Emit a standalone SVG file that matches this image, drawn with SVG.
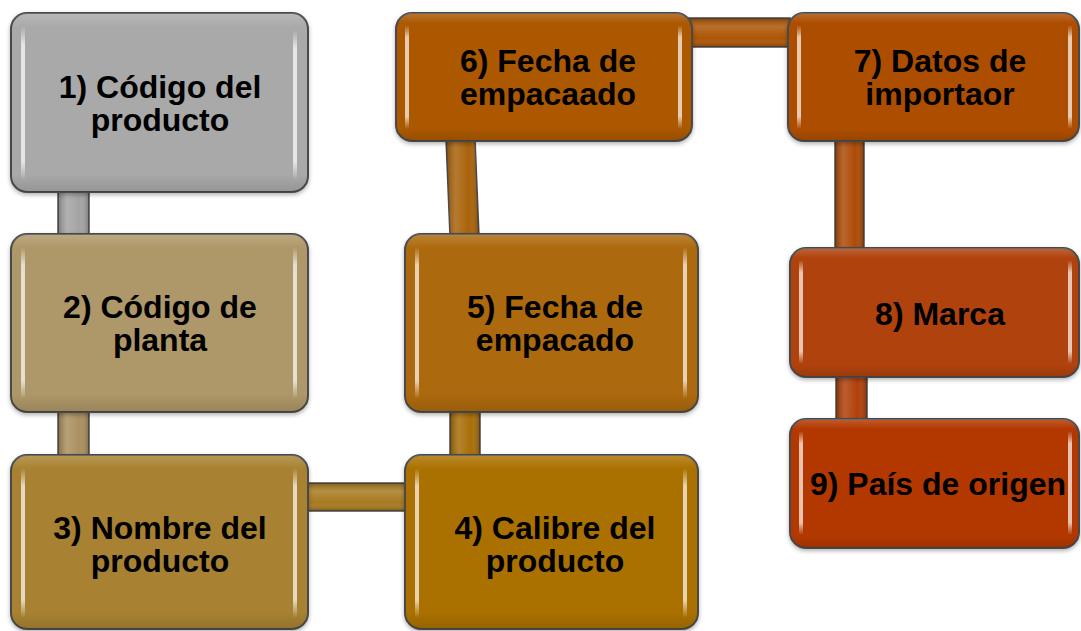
<svg xmlns="http://www.w3.org/2000/svg" width="1081" height="631" viewBox="0 0 1081 631">
  <defs>
    <!-- soft top sheen and darker bottom for the bevelled boxes -->
    <linearGradient id="sheen" x1="0" y1="0" x2="0" y2="1">
      <stop offset="0" stop-color="#ffffff" stop-opacity="0.18"/>
      <stop offset="0.08" stop-color="#ffffff" stop-opacity="0"/>
      <stop offset="0.9" stop-color="#000000" stop-opacity="0"/>
      <stop offset="1" stop-color="#000000" stop-opacity="0.12"/>
    </linearGradient>
    <!-- highlight strips fade out at both ends -->
    <linearGradient id="strip" x1="0" y1="0" x2="0" y2="1">
      <stop offset="0" stop-color="#ffffff" stop-opacity="0"/>
      <stop offset="0.12" stop-color="#ffffff" stop-opacity="0.7"/>
      <stop offset="0.88" stop-color="#ffffff" stop-opacity="0.7"/>
      <stop offset="1" stop-color="#ffffff" stop-opacity="0"/>
    </linearGradient>
    <!-- tube shading for the connector bars -->
    <linearGradient id="tubeV" x1="0" y1="0" x2="1" y2="0">
      <stop offset="0" stop-color="#000000" stop-opacity="0.25"/>
      <stop offset="0.3" stop-color="#ffffff" stop-opacity="0.15"/>
      <stop offset="0.7" stop-color="#ffffff" stop-opacity="0"/>
      <stop offset="1" stop-color="#000000" stop-opacity="0.25"/>
    </linearGradient>
    <linearGradient id="tubeH" x1="0" y1="0" x2="0" y2="1">
      <stop offset="0" stop-color="#000000" stop-opacity="0.25"/>
      <stop offset="0.3" stop-color="#ffffff" stop-opacity="0.15"/>
      <stop offset="0.7" stop-color="#ffffff" stop-opacity="0"/>
      <stop offset="1" stop-color="#000000" stop-opacity="0.25"/>
    </linearGradient>
    <filter id="shadow" x="-5%" y="-5%" width="110%" height="115%">
      <feDropShadow dx="0" dy="2" stdDeviation="2" flood-color="#000" flood-opacity="0.3"/>
    </filter>
  </defs>
  <style>
    .box { stroke: #4a4a4a; stroke-width: 2; filter: url(#shadow); }
    .shade { fill: url(#sheen); stroke: none; }
    .hl { fill: url(#strip); }
    .bar { stroke: #4a4a4a; stroke-width: 1.5; }
    .tv { fill: url(#tubeV); stroke: none; }
    .th { fill: url(#tubeH); stroke: none; }
    .label { font-family: "Liberation Sans", Arial, sans-serif; font-weight: bold; font-size: 32px; fill: #000; text-anchor: middle; }
  </style>

  <rect width="1081" height="631" fill="#ffffff"/>

  <!-- connector bars -->
  <g id="connectors">
    <rect class="bar" x="58" y="190" width="31" height="46" fill="#a3a3a3"/>
    <rect class="tv" x="58" y="190" width="31" height="46"/>
    <rect class="bar" x="58" y="410" width="31" height="48" fill="#ab9060"/>
    <rect class="tv" x="58" y="410" width="31" height="48"/>
    <rect class="bar" x="306" y="483" width="102" height="28" fill="#a87a20"/>
    <rect class="th" x="306" y="483" width="102" height="28"/>
    <rect class="bar" x="450" y="410" width="30" height="48" fill="#a86e08"/>
    <rect class="tv" x="450" y="410" width="30" height="48"/>
    <polygon class="bar" points="446,139 475,139 479,236 450,236" fill="#a9620a"/>
    <polygon class="tv" points="446,139 475,139 479,236 450,236"/>
    <rect class="bar" x="688" y="18" width="102" height="29" fill="#ad5504"/>
    <rect class="th" x="688" y="18" width="102" height="29"/>
    <rect class="bar" x="835" y="139" width="29" height="112" fill="#ad4b06"/>
    <rect class="tv" x="835" y="139" width="29" height="112"/>
    <rect class="bar" x="836" y="375" width="31" height="46" fill="#b0400a"/>
    <rect class="tv" x="836" y="375" width="31" height="46"/>
  </g>

  <g id="node1">
    <rect class="box" x="11" y="13" width="297" height="179" rx="16" fill="#a9a9a9"/>
    <rect class="shade" x="11" y="13" width="297" height="179" rx="16"/>
    <rect class="hl" x="21" y="26" width="4" height="154" rx="2"/>
    <rect class="hl" x="293" y="30" width="4" height="150" rx="2"/>
    <text class="label" x="160" y="98">1) Código del</text>
    <text class="label" x="160" y="131">producto</text>
  </g>

  <g id="node2">
    <rect class="box" x="11" y="234" width="297" height="178" rx="16" fill="#ae9767"/>
    <rect class="shade" x="11" y="234" width="297" height="178" rx="16"/>
    <rect class="hl" x="21" y="247" width="4" height="152" rx="2"/>
    <rect class="hl" x="293" y="247" width="4" height="152" rx="2"/>
    <text class="label" x="160" y="318">2) Código de</text>
    <text class="label" x="160" y="351">planta</text>
  </g>

  <g id="node3">
    <rect class="box" x="11" y="455" width="297" height="174" rx="16" fill="#a88231"/>
    <rect class="shade" x="11" y="455" width="297" height="174" rx="16"/>
    <rect class="hl" x="21" y="468" width="4" height="150" rx="2"/>
    <rect class="hl" x="293" y="468" width="4" height="150" rx="2"/>
    <text class="label" x="160" y="539">3) Nombre del</text>
    <text class="label" x="160" y="572">producto</text>
  </g>

  <g id="node4">
    <rect class="box" x="405" y="455" width="293" height="174" rx="16" fill="#ab7100"/>
    <rect class="shade" x="405" y="455" width="293" height="174" rx="16"/>
    <rect class="hl" x="415" y="468" width="4" height="150" rx="2"/>
    <rect class="hl" x="683" y="468" width="4" height="150" rx="2"/>
    <text class="label" x="555" y="539">4) Calibre del</text>
    <text class="label" x="555" y="572">producto</text>
  </g>

  <g id="node5">
    <rect class="box" x="405" y="234" width="293" height="178" rx="16" fill="#ac690a"/>
    <rect class="shade" x="405" y="234" width="293" height="178" rx="16"/>
    <rect class="hl" x="415" y="247" width="4" height="152" rx="2"/>
    <rect class="hl" x="683" y="247" width="4" height="152" rx="2"/>
    <text class="label" x="555" y="318">5) Fecha de</text>
    <text class="label" x="555" y="351">empacado</text>
  </g>

  <g id="node6">
    <rect class="box" x="396" y="13" width="296" height="128" rx="16" fill="#ab5900"/>
    <rect class="shade" x="396" y="13" width="296" height="128" rx="16"/>
    <rect class="hl" x="405" y="25" width="4" height="104" rx="2"/>
    <rect class="hl" x="678" y="25" width="4" height="104" rx="2"/>
    <text class="label" x="548" y="72">6) Fecha de</text>
    <text class="label" x="548" y="105">empacaado</text>
  </g>

  <g id="node7">
    <rect class="box" x="788" y="13" width="291" height="128" rx="16" fill="#ad4e00"/>
    <rect class="shade" x="788" y="13" width="291" height="128" rx="16"/>
    <rect class="hl" x="797" y="25" width="4" height="104" rx="2"/>
    <rect class="hl" x="1068" y="25" width="4" height="104" rx="2"/>
    <text class="label" x="940" y="72">7) Datos de</text>
    <text class="label" x="940" y="105">importaor</text>
  </g>

  <g id="node8">
    <rect class="box" x="790" y="248" width="289" height="129" rx="16" fill="#b0430a"/>
    <rect class="shade" x="790" y="248" width="289" height="129" rx="16"/>
    <rect class="hl" x="799" y="260" width="4" height="104" rx="2"/>
    <rect class="hl" x="1068" y="260" width="4" height="104" rx="2"/>
    <text class="label" x="940" y="325">8) Marca</text>
  </g>

  <g id="node9">
    <rect class="box" x="790" y="419" width="289" height="129" rx="16" fill="#b33803"/>
    <rect class="shade" x="790" y="419" width="289" height="129" rx="16"/>
    <rect class="hl" x="799" y="431" width="4" height="104" rx="2"/>
    <rect class="hl" x="1068" y="431" width="4" height="104" rx="2"/>
    <text class="label" x="938" y="495">9) País de origen</text>
  </g>
</svg>
